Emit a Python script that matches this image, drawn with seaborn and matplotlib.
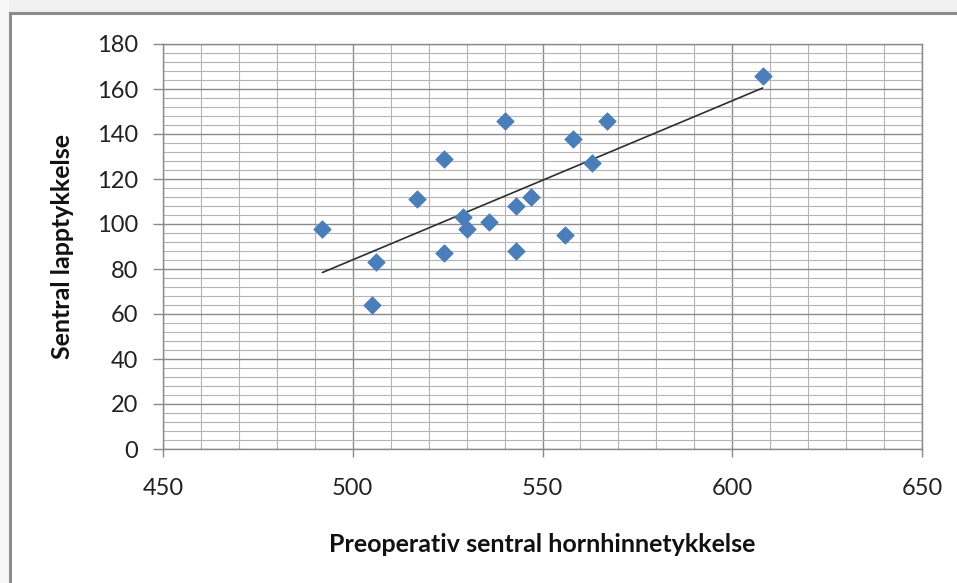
import numpy as np
import pandas as pd
import matplotlib
matplotlib.use("Agg")
import matplotlib.pyplot as plt
from matplotlib.patches import Rectangle
from matplotlib.ticker import MultipleLocator
import seaborn as sns

# Preoperative central corneal thickness vs. central flap thickness
cornea = [492, 506, 505, 517, 524, 524, 529, 530, 536, 540, 543, 543, 547, 556, 558, 563, 567, 608]
flap = [98, 83, 64, 111, 129, 87, 103, 98, 101, 146, 108, 88, 112, 95, 138, 127, 146, 166]

x_label = "Preoperativ sentral hornhinnetykkelse"
y_label = "Sentral lapptykkelse"

df = pd.DataFrame({"x": cornea, "y": flap})

sns.set_theme(style="white")
plt.rcParams["font.family"] = ["Lato", "DejaVu Sans"]

fig = plt.figure(figsize=(9.57, 5.83), dpi=100)
fig.patch.set_facecolor("white")

# light strip above / left of the chart frame
fig.patches.append(Rectangle((0, 1 - 12 / 583), 1, 12 / 583, transform=fig.transFigure,
                             facecolor="#f1f1f1", edgecolor="none", zorder=-3))
fig.patches.append(Rectangle((0, 0), 9 / 957, 1, transform=fig.transFigure,
                             facecolor="#f6f6f6", edgecolor="none", zorder=-3))
# chart frame
fig.patches.append(Rectangle((10 / 957, -0.05), 1.1, 1 - 13 / 583 + 0.05, transform=fig.transFigure,
                             facecolor="white", edgecolor="#8c8c8c", linewidth=2.2, zorder=-2))

ax = fig.add_axes([163 / 957, 1 - 449 / 583, (922 - 163) / 957, (449 - 44) / 583])
ax.set_facecolor("white")

sns.regplot(data=df, x="x", y="y", scatter=False, ci=None, truncate=True, ax=ax,
            line_kws={"color": "#2e2e2e", "linewidth": 1.2, "zorder": 3})
sns.scatterplot(data=df, x="x", y="y", marker="D", s=80, color="#4a7ebb",
                edgecolor="#4a7ebb", linewidth=0.5, ax=ax, zorder=4)

ax.set_xlim(450, 650)
ax.set_ylim(0, 180)
ax.xaxis.set_major_locator(MultipleLocator(50))
ax.xaxis.set_minor_locator(MultipleLocator(10))
ax.yaxis.set_major_locator(MultipleLocator(20))
ax.yaxis.set_minor_locator(MultipleLocator(4))

ax.grid(which="minor", color="#b4b4b4", linewidth=0.8, zorder=0)
ax.grid(which="major", color="#8a8a8a", linewidth=1.0, zorder=0)
ax.set_axisbelow(True)

for side in ["left", "bottom", "top", "right"]:
    ax.spines[side].set_color("#8a8a8a")
    ax.spines[side].set_linewidth(1.0)

ax.tick_params(axis="x", which="major", direction="out", length=6, width=1.0,
               color="#8a8a8a", pad=15, labelsize=17, labelcolor="#222222", bottom=True)
ax.tick_params(axis="y", which="major", direction="out", length=7, width=1.0,
               color="#8a8a8a", pad=11, labelsize=17, labelcolor="#222222", left=True)
ax.tick_params(which="minor", length=0)

ax.set_xlabel(x_label, fontsize=18, fontweight="bold", color="#111111")
ax.set_ylabel(y_label, fontsize=18, fontweight="bold", color="#111111")
ax.xaxis.set_label_coords(0.5, -0.237)
ax.yaxis.set_label_coords(-0.132, 0.5)
ax.xaxis.label.set_va("center")
ax.yaxis.label.set_va("center")

fig.savefig("out.png", dpi=100)
